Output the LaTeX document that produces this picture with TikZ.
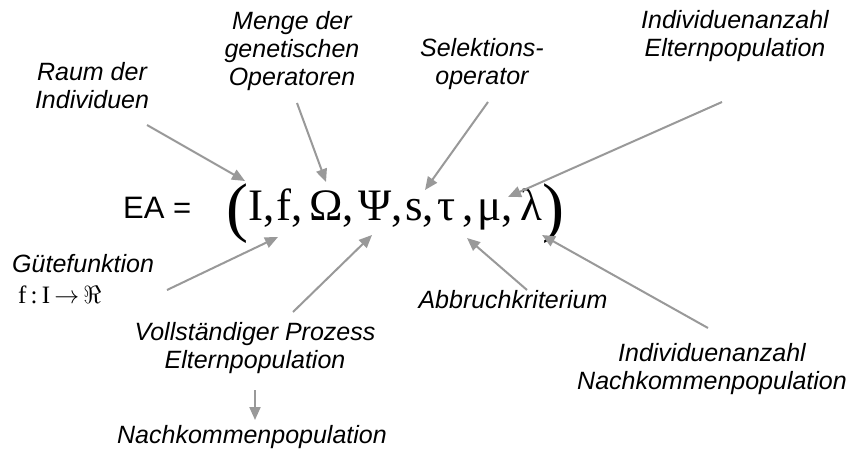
\documentclass[tikz,border=0pt]{standalone}
\usepackage{fontspec}
\setmainfont{Liberation Serif}
\newfontfamily\lblfont{Liberation Sans}
\usetikzlibrary{arrows.meta}
\definecolor{arrowgray}{HTML}{999999}

\begin{document}
\begin{tikzpicture}[x=1pt,y=-1pt,
  lbl/.style={font=\lblfont\itshape\fontsize{25}{28}\selectfont, align=center, inner sep=0pt},
  sym/.style={font=\fontsize{45}{50}\selectfont, anchor=base west, inner sep=0pt},
  paren/.style={font=\fontsize{66}{70}\selectfont, anchor=base west, inner sep=0pt},
  ptr/.style={draw=arrowgray, line width=2pt, -{Triangle[length=13pt,width=11pt]}}]

  \fill[white] (0,0) rectangle (847,450);
  \useasboundingbox (0,0) rectangle (847,450);

  % left-hand side of the definition
  \node[font=\lblfont\fontsize{31}{34}\selectfont, anchor=base west, inner sep=0pt] (ea) at (123,218) {EA =};

  % the tuple, one node per component
  \node[paren] (lp) at (226,229) {(};
  \node[sym] (tI)  at (248,220) {I,};
  \node[sym] (tf)  at (276,220) {f,};
  \node[sym] (tO)  at (309,220) {Ω,};
  \node[sym] (tP)  at (358,220) {Ψ,};
  \node[sym] (ts)  at (405,220) {s,};
  \node[sym] (tt)  at (437,220) {τ\,,};
  \node[sym] (tm)  at (477,220) {μ,};
  \node[sym] (tl)  at (520,220) {λ};
  \node[paren] (rp) at (542,229) {)};

  % explanatory labels
  \node[lbl] (raum)    at (92,86)   {Raum der\\Individuen};
  \node[lbl] (menge)   at (292,51)  {Menge der\\genetischen\\Operatoren};
  \node[lbl] (sel)     at (482,64)  {Selektions-\\operator};
  \node[lbl] (eltern)  at (735,36)  {Individuenanzahl\\Elternpopulation};
  \node[lbl, anchor=base west] (guete) at (12,272) {Gütefunktion};
  \node[font=\fontsize{25}{27}\selectfont, anchor=base west, inner sep=0pt] (guetef) at (18,303) {f\,:\,I\,$\rightarrow$\,$\Re$};
  \node[lbl] (prozess) at (255,348) {Vollständiger Prozess\\Elternpopulation};
  \node[lbl] (nachk)   at (252,437) {Nachkommenpopulation};
  \node[lbl] (abbr)    at (513,300) {Abbruchkriterium};
  \node[lbl] (anzahl)  at (712,369) {Individuenanzahl\\Nachkommenpopulation};

  % arrow end points
  \coordinate (raum-s)    at (147,125);  \coordinate (raum-t)    at (245,181);
  \coordinate (menge-s)   at (297,103);  \coordinate (menge-t)   at (326,182);
  \coordinate (sel-s)     at (488,102);  \coordinate (sel-t)     at (425,190);
  \coordinate (eltern-s)  at (722,102);  \coordinate (eltern-t)  at (508,197);
  \coordinate (guete-s)   at (167,290);  \coordinate (guete-t)   at (278,237);
  \coordinate (prozess-s) at (293,312);  \coordinate (prozess-t) at (372,235);
  \coordinate (abbr-s)    at (527,290);  \coordinate (abbr-t)    at (467,238);
  \coordinate (anzahl-s)  at (708,328);  \coordinate (anzahl-t)  at (542,235);
  \coordinate (down-s)    at (255,390);  \coordinate (down-t)    at (255,420);

  \draw[ptr] (raum-s) -- (raum-t);
  \draw[ptr] (menge-s) -- (menge-t);
  \draw[ptr] (sel-s) -- (sel-t);
  \draw[ptr] (eltern-s) -- (eltern-t);
  \draw[ptr] (guete-s) -- (guete-t);
  \draw[ptr] (prozess-s) -- (prozess-t);
  \draw[ptr] (abbr-s) -- (abbr-t);
  \draw[ptr] (anzahl-s) -- (anzahl-t);
  \draw[ptr] (down-s) -- (down-t);
\end{tikzpicture}
\end{document}
